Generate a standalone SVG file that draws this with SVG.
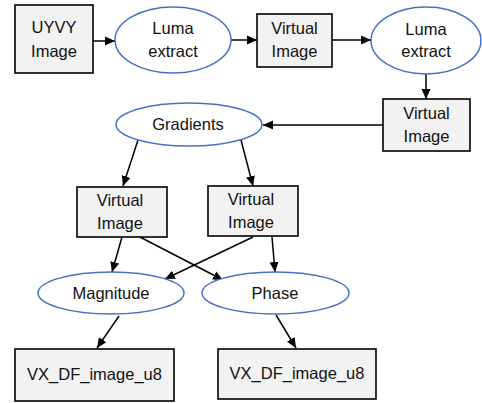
<svg xmlns="http://www.w3.org/2000/svg" width="482" height="403" viewBox="0 0 482 403">
<defs>
<style>
.box{fill:#f2f2f2;stroke:#000;stroke-width:1.6}
.ell{fill:#fff;stroke:#4472c4;stroke-width:1.5}
.t{font-family:"Liberation Sans",Arial,sans-serif;font-size:16.5px;fill:#111;text-anchor:middle}
.c{stroke:#000;stroke-width:1.5;fill:none;marker-end:url(#ah)}
</style>
<marker id="ah" viewBox="0 0 10 10" refX="10" refY="5" markerWidth="10" markerHeight="10" markerUnits="userSpaceOnUse" orient="auto">
<path d="M0,0.5 L10,5 L0,9.5 z" fill="#000"/>
</marker>
</defs>
<rect width="482" height="403" fill="#fff"/>
<g id="connectors">
<line class="c" x1="93" y1="41" x2="115" y2="41"/>
<line class="c" x1="231" y1="40" x2="257" y2="40"/>
<line class="c" x1="332" y1="40" x2="371" y2="40"/>
<line class="c" x1="426" y1="74" x2="426" y2="99"/>
<line class="c" x1="383" y1="125" x2="263" y2="125"/>
<line class="c" x1="138" y1="140" x2="123" y2="186"/>
<line class="c" x1="241" y1="140" x2="253" y2="186"/>
<line class="c" x1="122" y1="237" x2="112" y2="272"/>
<line class="c" x1="140" y1="237" x2="223" y2="280"/>
<line class="c" x1="253" y1="237" x2="165" y2="279"/>
<line class="c" x1="272" y1="237" x2="275" y2="272"/>
<line class="c" x1="119" y1="316" x2="97" y2="348"/>
<line class="c" x1="276" y1="315" x2="296" y2="348"/>
</g>
<g id="uyvy">
<rect class="box" x="15" y="5" width="78" height="68"/>
<text class="t" x="54" y="33">UYVY</text>
<text class="t" x="54" y="57">Image</text>
</g>
<g id="luma1">
<ellipse class="ell" cx="173" cy="40" rx="58" ry="33"/>
<text class="t" x="173" y="34">Luma</text>
<text class="t" x="173" y="57">extract</text>
</g>
<g id="virtual1">
<rect class="box" x="257" y="14" width="75" height="53"/>
<text class="t" x="294.5" y="34">Virtual</text>
<text class="t" x="294.5" y="57">Image</text>
</g>
<g id="luma2">
<ellipse class="ell" cx="426" cy="40.5" rx="55" ry="33.5"/>
<text class="t" x="426" y="35">Luma</text>
<text class="t" x="426" y="57">extract</text>
</g>
<g id="virtual2">
<rect class="box" x="383" y="99" width="87" height="52"/>
<text class="t" x="426.5" y="119">Virtual</text>
<text class="t" x="426.5" y="142">Image</text>
</g>
<g id="gradients">
<ellipse class="ell" cx="189" cy="124.5" rx="73" ry="21.5"/>
<text class="t" x="188" y="130">Gradients</text>
</g>
<g id="virtual3">
<rect class="box" x="77" y="187" width="90" height="50"/>
<text class="t" x="120" y="206">Virtual</text>
<text class="t" x="120" y="229">Image</text>
</g>
<g id="virtual4">
<rect class="box" x="208" y="186" width="90" height="50"/>
<text class="t" x="251" y="205">Virtual</text>
<text class="t" x="251" y="228">Image</text>
</g>
<g id="magnitude">
<ellipse class="ell" cx="111" cy="293" rx="73" ry="21"/>
<text class="t" x="111" y="299">Magnitude</text>
</g>
<g id="phase">
<ellipse class="ell" cx="275.5" cy="293" rx="73.5" ry="21"/>
<text class="t" x="275" y="299">Phase</text>
</g>
<g id="vx1">
<rect class="box" x="15" y="349" width="159" height="52"/>
<text class="t" x="94.5" y="380">VX_DF_image_u8</text>
</g>
<g id="vx2">
<rect class="box" x="218" y="349" width="158" height="50"/>
<text class="t" x="297" y="379">VX_DF_image_u8</text>
</g>
</svg>
